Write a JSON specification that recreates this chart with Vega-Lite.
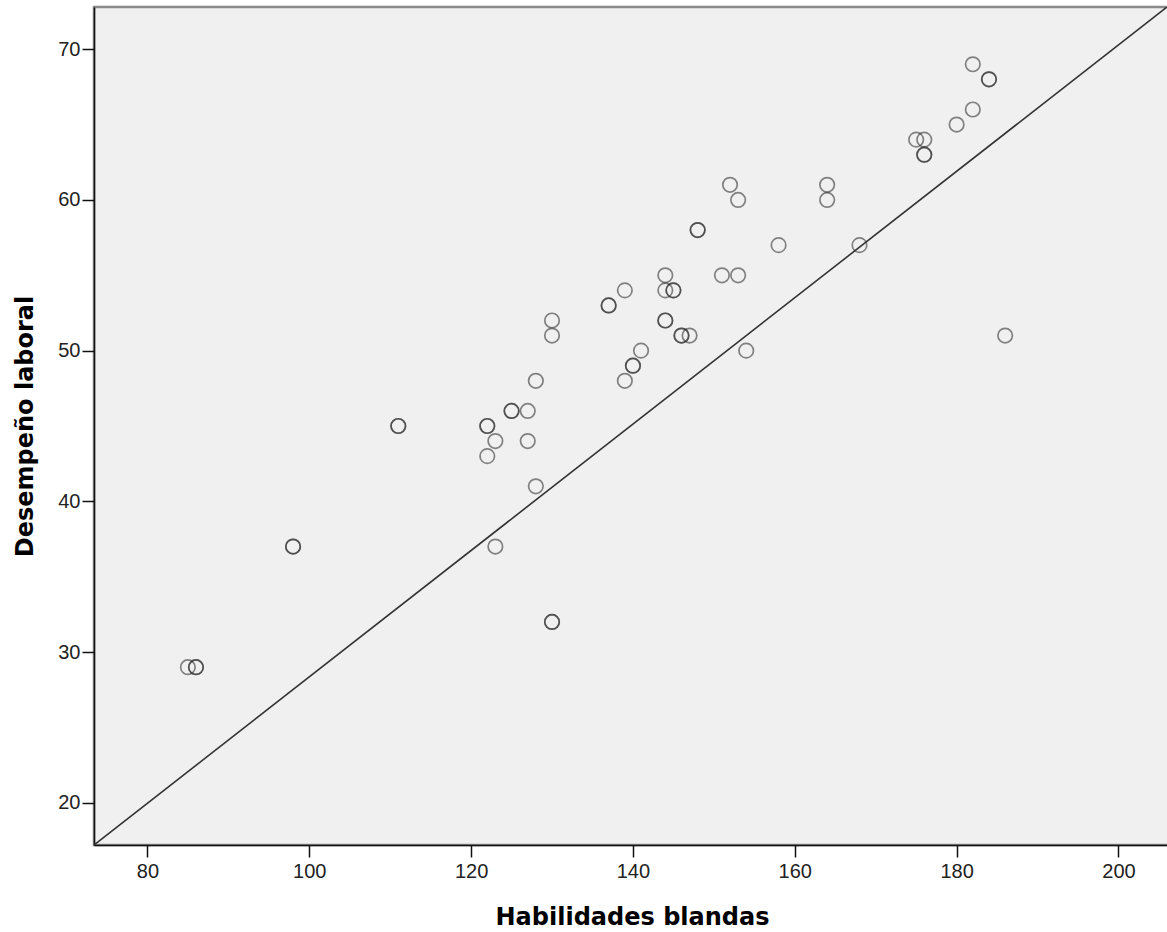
{
  "$schema": "https://vega.github.io/schema/vega-lite/v6.json",
  "autosize": "none",
  "width": 1076,
  "height": 838,
  "padding": {"left": 94, "top": 7, "right": 0, "bottom": 87},
  "background": "white",
  "config": {
    "view": {"fill": "#f0f0f0", "stroke": "#8a8a8a", "strokeWidth": 2.5},
    "axis": {
      "grid": false,
      "domainColor": "#111",
      "domainWidth": 1.5,
      "tickColor": "#111",
      "tickWidth": 1.5,
      "tickSize": 12,
      "labelFont": "Liberation Sans",
      "labelFontSize": 20,
      "labelColor": "#222",
      "titleFont": "DejaVu Sans",
      "titleFontWeight": "bold",
      "titleFontSize": 24,
      "titleColor": "#000"
    }
  },
  "datasets": {
    "pts": [
      {"hab": 85, "des": 29}, {"hab": 86, "des": 29}, {"hab": 86, "des": 29},
      {"hab": 98, "des": 37}, {"hab": 98, "des": 37},
      {"hab": 111, "des": 45}, {"hab": 111, "des": 45},
      {"hab": 122, "des": 45}, {"hab": 122, "des": 45},
      {"hab": 122, "des": 43}, {"hab": 123, "des": 44}, {"hab": 123, "des": 37},
      {"hab": 125, "des": 46}, {"hab": 125, "des": 46},
      {"hab": 127, "des": 46}, {"hab": 127, "des": 44},
      {"hab": 128, "des": 48}, {"hab": 128, "des": 41},
      {"hab": 130, "des": 52}, {"hab": 130, "des": 51},
      {"hab": 130, "des": 32}, {"hab": 130, "des": 32},
      {"hab": 137, "des": 53}, {"hab": 137, "des": 53},
      {"hab": 139, "des": 54}, {"hab": 139, "des": 48},
      {"hab": 140, "des": 49}, {"hab": 140, "des": 49},
      {"hab": 141, "des": 50},
      {"hab": 144, "des": 55}, {"hab": 144, "des": 54},
      {"hab": 144, "des": 52}, {"hab": 144, "des": 52},
      {"hab": 145, "des": 54}, {"hab": 145, "des": 54},
      {"hab": 146, "des": 51}, {"hab": 146, "des": 51},
      {"hab": 147, "des": 51},
      {"hab": 148, "des": 58}, {"hab": 148, "des": 58},
      {"hab": 151, "des": 55}, {"hab": 152, "des": 61},
      {"hab": 153, "des": 60}, {"hab": 153, "des": 55},
      {"hab": 154, "des": 50}, {"hab": 158, "des": 57},
      {"hab": 164, "des": 61}, {"hab": 164, "des": 60},
      {"hab": 168, "des": 57},
      {"hab": 175, "des": 64}, {"hab": 176, "des": 64},
      {"hab": 176, "des": 63}, {"hab": 176, "des": 63},
      {"hab": 180, "des": 65},
      {"hab": 182, "des": 69}, {"hab": 182, "des": 66},
      {"hab": 184, "des": 68}, {"hab": 184, "des": 68},
      {"hab": 186, "des": 51}
    ],
    "linea": [
      {"hab": 73.4, "des": 17.2},
      {"hab": 206, "des": 72.8}
    ]
  },
  "layer": [
    {
      "data": {"name": "linea"},
      "mark": {"type": "line", "color": "#333", "strokeWidth": 1.6, "clip": true},
      "encoding": {
        "x": {"field": "hab", "type": "quantitative"},
        "y": {"field": "des", "type": "quantitative"}
      }
    },
    {
      "data": {"name": "pts"},
      "mark": {"type": "point", "shape": "circle", "filled": false, "size": 210, "stroke": "#2a2a2a", "strokeWidth": 1.7, "strokeOpacity": 0.8},
      "encoding": {
        "x": {
          "field": "hab", "type": "quantitative",
          "scale": {"domain": [73.4, 206.37], "nice": false, "zero": false},
          "axis": {"values": [80, 100, 120, 140, 160, 180, 200], "title": "Habilidades blandas", "titlePadding": 24, "labelPadding": 4}
        },
        "y": {
          "field": "des", "type": "quantitative",
          "scale": {"domain": [17.2, 72.8], "nice": false, "zero": false},
          "axis": {"values": [20, 30, 40, 50, 60, 70], "title": "Desempeño laboral", "titlePadding": 20, "labelPadding": 2}
        }
      }
    }
  ]
}
